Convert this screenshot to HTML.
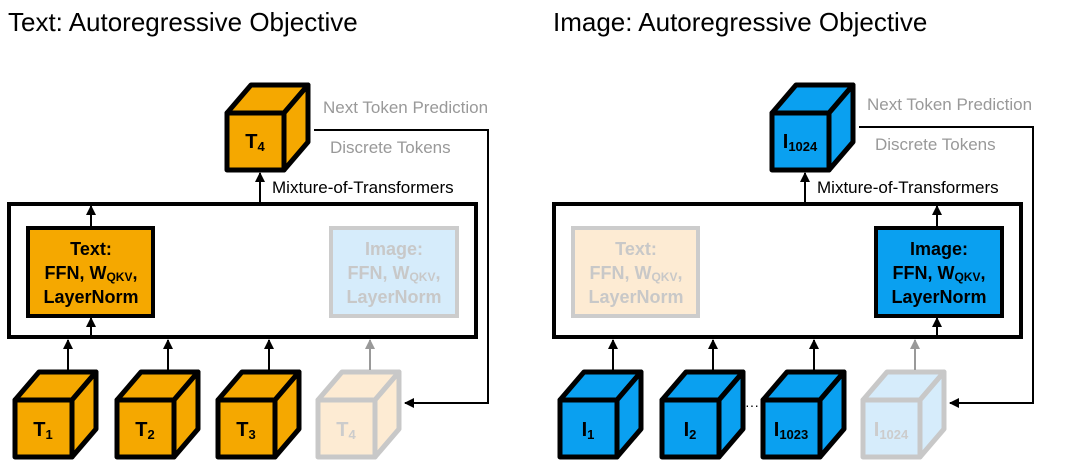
<!DOCTYPE html>
<html><head><meta charset="utf-8"><style>
html,body{margin:0;padding:0;background:#fff;}
svg{display:block;font-family:"Liberation Sans",sans-serif;}
</style></head><body>
<svg width="1080" height="463" viewBox="0 0 1080 463" xmlns="http://www.w3.org/2000/svg">
<defs>
<marker id="ah" viewBox="0 0 10 10" refX="9" refY="5" markerWidth="5" markerHeight="5" orient="auto"><path d="M0,0 L10,5 L0,10 z" fill="#000"/></marker>
<marker id="ahg" viewBox="0 0 10 10" refX="9" refY="5" markerWidth="5" markerHeight="5" orient="auto"><path d="M0,0 L10,5 L0,10 z" fill="#999"/></marker>
<g id="cube">
<polygon points="0,0 24,-28 81,-28 57,0"/>
<polygon points="57,0 81,-28 81,29 57,57"/>
<rect x="0" y="0" width="57" height="57"/>
</g>
</defs>

<text x="8" y="31" font-size="26" fill="#000">Text: Autoregressive Objective</text>
<text x="553" y="31" font-size="26" fill="#000">Image: Autoregressive Objective</text>

<!-- LEFT PANEL -->
<g>
<g fill="#F5A800" stroke="#000" stroke-width="5" stroke-linejoin="round">
<use href="#cube" x="227" y="113"/>
<use href="#cube" x="15" y="400"/>
<use href="#cube" x="117" y="400"/>
<use href="#cube" x="218" y="400"/>
</g>
<g fill="#FDEBD3" stroke="#C8C8C8" stroke-width="5" stroke-linejoin="round">
<use href="#cube" x="318" y="400"/>
</g>
<g font-size="20" font-weight="bold" text-anchor="middle">
<text x="255" y="148">T<tspan font-size="13" dy="3">4</tspan></text>
<text x="43" y="436">T<tspan font-size="13" dy="3">1</tspan></text>
<text x="145" y="436">T<tspan font-size="13" dy="3">2</tspan></text>
<text x="246" y="436">T<tspan font-size="13" dy="3">3</tspan></text>
<text x="346" y="436" fill="#CCC">T<tspan font-size="13" dy="3">4</tspan></text>
</g>
<rect x="9" y="204" width="467" height="133" fill="none" stroke="#000" stroke-width="4"/>
<rect x="28" y="228" width="125" height="88" fill="#F5A800" stroke="#000" stroke-width="4"/>
<rect x="331" y="228" width="126" height="88" fill="#D6ECFB" stroke="#CCC" stroke-width="4"/>
<g font-size="18" font-weight="bold" text-anchor="middle">
<text x="91" y="255">Text:</text>
<text x="91" y="279">FFN, W<tspan font-size="12" dy="2">QKV</tspan><tspan dy="-2">,</tspan></text>
<text x="91" y="303">LayerNorm</text>
<g fill="#C8C8C8">
<text x="394" y="255">Image:</text>
<text x="394" y="279">FFN, W<tspan font-size="12" dy="2">QKV</tspan><tspan dy="-2">,</tspan></text>
<text x="394" y="303">LayerNorm</text>
</g>
</g>
<g stroke="#000" stroke-width="2" marker-end="url(#ah)">
<line x1="68" y1="370" x2="68" y2="340"/>
<line x1="168" y1="370" x2="168" y2="340"/>
<line x1="269" y1="370" x2="269" y2="340"/>
<line x1="91" y1="336" x2="91" y2="318"/>
<line x1="91" y1="227" x2="91" y2="206"/>
<line x1="260" y1="203" x2="260" y2="173"/>
<polyline points="314,130 488,130 488,403 405,403" fill="none"/>
</g>
<line x1="370" y1="370" x2="370" y2="340" stroke="#999" stroke-width="2" marker-end="url(#ahg)"/>
<text x="272" y="193" font-size="17">Mixture-of-Transformers</text>
<text x="323" y="113" font-size="17" fill="#999">Next Token Prediction</text>
<text x="330" y="153" font-size="17" fill="#999">Discrete Tokens</text>
</g>

<!-- RIGHT PANEL -->
<g transform="translate(545,0)">
<g fill="#0AA0F0" stroke="#000" stroke-width="5" stroke-linejoin="round">
<use href="#cube" x="227" y="113"/>
<use href="#cube" x="15" y="400"/>
<use href="#cube" x="117" y="400"/>
<use href="#cube" x="218" y="400"/>
</g>
<g fill="#D6ECFB" stroke="#C8C8C8" stroke-width="5" stroke-linejoin="round">
<use href="#cube" x="318" y="400"/>
</g>
<g font-size="20" font-weight="bold" text-anchor="middle">
<text x="255" y="148">I<tspan font-size="13" dy="3">1024</tspan></text>
<text x="43" y="436">I<tspan font-size="13" dy="3">1</tspan></text>
<text x="145" y="436">I<tspan font-size="13" dy="3">2</tspan></text>
<text x="246" y="436">I<tspan font-size="13" dy="3">1023</tspan></text>
<text x="346" y="436" fill="#CCC">I<tspan font-size="13" dy="3">1024</tspan></text>
</g>
<text x="200" y="410" font-size="14">···</text>
<rect x="9" y="204" width="467" height="133" fill="none" stroke="#000" stroke-width="4"/>
<rect x="28" y="228" width="125" height="88" fill="#FDEBD3" stroke="#CCC" stroke-width="4"/>
<rect x="331" y="228" width="126" height="88" fill="#0AA0F0" stroke="#000" stroke-width="4"/>
<g font-size="18" font-weight="bold" text-anchor="middle">
<g fill="#C8C8C8">
<text x="91" y="255">Text:</text>
<text x="91" y="279">FFN, W<tspan font-size="12" dy="2">QKV</tspan><tspan dy="-2">,</tspan></text>
<text x="91" y="303">LayerNorm</text>
</g>
<text x="394" y="255">Image:</text>
<text x="394" y="279">FFN, W<tspan font-size="12" dy="2">QKV</tspan><tspan dy="-2">,</tspan></text>
<text x="394" y="303">LayerNorm</text>
</g>
<g stroke="#000" stroke-width="2" marker-end="url(#ah)">
<line x1="68" y1="370" x2="68" y2="340"/>
<line x1="168" y1="370" x2="168" y2="340"/>
<line x1="269" y1="370" x2="269" y2="340"/>
<line x1="392" y1="336" x2="392" y2="318"/>
<line x1="392" y1="227" x2="392" y2="206"/>
<line x1="260" y1="203" x2="260" y2="173"/>
<polyline points="314,127 488,127 488,403 405,403" fill="none"/>
</g>
<line x1="370" y1="370" x2="370" y2="340" stroke="#999" stroke-width="2" marker-end="url(#ahg)"/>
<text x="272" y="193" font-size="17">Mixture-of-Transformers</text>
<text x="322" y="110" font-size="17" fill="#999">Next Token Prediction</text>
<text x="330" y="150" font-size="17" fill="#999">Discrete Tokens</text>
</g>
</svg>
</body></html>
